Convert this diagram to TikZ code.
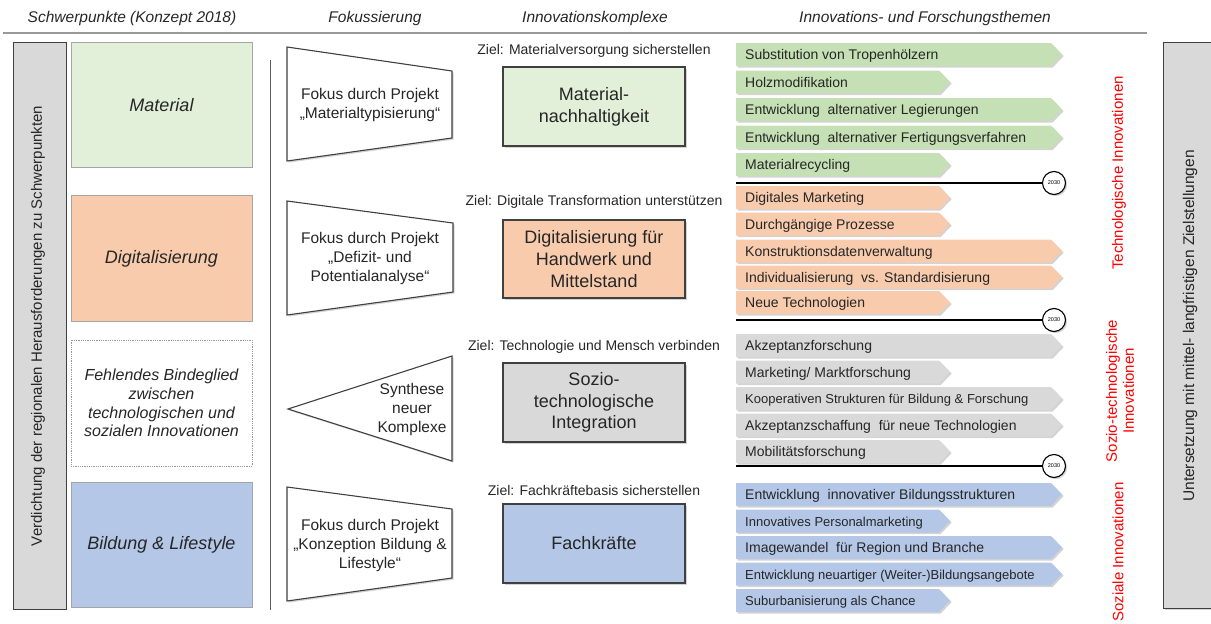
\documentclass[tikz,border=0pt]{standalone}
\usepackage{fontspec}
\setmainfont{Liberation Sans}
\usetikzlibrary{shadows}
\definecolor{gA}{HTML}{E2F0D9}
\definecolor{gB}{HTML}{C5E0B4}
\definecolor{oA}{HTML}{F8CBAD}
\definecolor{grA}{HTML}{D9D9D9}
\definecolor{bA}{HTML}{B4C7E7}
\definecolor{txt}{HTML}{262626}
\definecolor{edge}{HTML}{404040}
\definecolor{redtxt}{HTML}{FF0000}
\newcommand{\fsz}[2]{\fontsize{#1}{#2}\selectfont}
% #1 name, #2 top y, #3 tip x, #4 fill, #5 font size, #6 text
\newcommand{\mytopic}[6]{%
  \path[fill=#4, shd] (736,#2) -- ({#3-11},#2) -- (#3,{#2+11.5}) -- ({#3-11},{#2+23}) -- (736,{#2+23}) -- cycle;
  \node[anchor=base west, inner sep=0pt, text=txt, font=\fsz{#5}{#5}] (#1) at (745,{#2+16.5}) {#6};}
\begin{document}
\begin{tikzpicture}[x=1pt,y=-1pt,
  shd/.style={drop shadow={shadow xshift=1.6pt,shadow yshift=-1.6pt,opacity=0.35}},
  hdr/.style={font=\fsz{15.5}{18}\itshape, text=txt, inner sep=0pt},
  sbox/.style={draw=black!35, line width=0.8pt, minimum width=181pt, inner sep=0pt, align=center, text=txt, font=\fsz{18}{21}\itshape},
  cbox/.style={draw=edge, line width=1.2pt, minimum width=182pt, minimum height=79pt, inner sep=0pt, align=center, text=txt, font=\fsz{18}{21.7}, shd},
  ziel/.style={font=\fsz{14}{16}, text=txt, inner sep=0pt},
  trap/.style={draw=edge, fill=white, line width=1.1pt, shd},
  traptext/.style={align=center, font=\fsz{15.5}{19}, text=txt, inner sep=0pt},
  redlab/.style={rotate=90, align=center, font=\fsz{15}{17}, text=redtxt, inner sep=0pt},
  yearc/.style={circle, draw=black, fill=white, line width=1.1pt, minimum size=23pt, inner sep=0pt, font=\fsz{5.5}{6}, shd},
  yline/.style={line width=1.8pt, black}
]
\useasboundingbox (0,0) rectangle (1211,624);

% header
\node[hdr] (h1) at (132,18) {Schwerpunkte (Konzept 2018)};
\node[hdr] (h2) at (375,18) {Fokussierung};
\node[hdr] (h3) at (595,18) {Innovationskomplexe};
\node[hdr] (h4) at (925,18) {Innovations- und Forschungsthemen};
\coordinate (hl1) at (3,33);
\coordinate (hl2) at (1147,33);
\draw[black!40, line width=1.6pt] (hl1) -- (hl2);

% left bar
\node[draw=edge, fill=grA, line width=1pt, minimum width=53pt, minimum height=567pt, inner sep=0pt] (lb) at (39.5,325.5) {};
\node[rotate=90, font=\fsz{15}{17}, text=txt, inner sep=0pt] (lbt) at (38,326) {Verdichtung der regionalen Herausforderungen zu Schwerpunkten};

% left boxes
\node[sbox, fill=gA, minimum height=125pt] (s1) at (161.5,105) {Material};
\node[sbox, fill=oA, minimum height=126pt] (s2) at (161.5,258.5) {Digitalisierung};
\node[sbox, draw=black!40, densely dotted, fill=white, minimum height=126pt, font=\fsz{16}{18.7}\itshape] (s3) at (161.5,403) {Fehlendes Bindeglied\\zwischen\\technologischen und\\sozialen Innovationen};
\node[sbox, fill=bA, minimum height=125pt] (s4) at (161.5,544.5) {Bildung \& Lifestyle};

% separator
\coordinate (v1) at (270,60);
\coordinate (v2) at (270,610);
\draw[black!65, line width=1pt] (v1) -- (v2);

% trapezoids
\draw[trap] (287,47) -- (452,71) -- (452,138) -- (287,161) -- cycle;
\node[traptext] (f1) at (370,105) {Fokus durch Projekt\\„Materialtypisierung“};
\draw[trap] (287,201) -- (453,223) -- (453,292) -- (287,315) -- cycle;
\node[traptext] (f2) at (370,258) {Fokus durch Projekt\\„Defizit- und\\Potentialanalyse“};
\draw[trap] (288,409) -- (452,356) -- (452,461) -- cycle;
\node[traptext] (f3) at (412,409) {Synthese\\neuer\\Komplexe};
\draw[trap] (287,487) -- (452,509) -- (452,578) -- (287,601) -- cycle;
\node[traptext] (f4) at (370,545) {Fokus durch Projekt\\„Konzeption Bildung \&\\Lifestyle“};

% center boxes
\node[ziel] (z1) at (594,51) {Ziel: Materialversorgung sicherstellen};
\node[cbox, fill=gA] (k1) at (594,106.5) {Material-\\nachhaltigkeit};
\node[ziel] (z2) at (594,202) {Ziel: Digitale Transformation unterstützen};
\node[cbox, fill=oA, minimum height=78pt] (k2) at (594,259) {Digitalisierung für\\Handwerk und\\Mittelstand};
\node[ziel] (z3) at (594,347) {Ziel: Technologie und Mensch verbinden};
\node[cbox, fill=grA] (k3) at (594,402.5) {Sozio-\\technologische\\Integration};
\node[ziel] (z4) at (594,490) {Ziel: Fachkräftebasis sicherstellen};
\node[cbox, fill=bA] (k4) at (594,543.5) {Fachkräfte};

% topics green
\mytopic{t1}{43}{1062}{gB}{14}{Substitution von Tropenhölzern}
\mytopic{t2}{70.5}{950}{gB}{14}{Holzmodifikation}
\mytopic{t3}{98}{1062}{gB}{14}{Entwicklung\ \ alternativer Legierungen}
\mytopic{t4}{125.5}{1062}{gB}{14}{Entwicklung\ \ alternativer Fertigungsverfahren}
\mytopic{t5}{153}{950}{gB}{14}{Materialrecycling}
% orange
\mytopic{t6}{186}{950}{oA}{14}{Digitales Marketing}
\mytopic{t7}{212.5}{950}{oA}{14}{Durchgängige Prozesse}
\mytopic{t8}{239.5}{1062}{oA}{14}{Konstruktionsdatenverwaltung}
\mytopic{t9}{265.5}{1062}{oA}{14}{Individualisierung\ \ vs. Standardisierung}
\mytopic{t10}{291}{950}{oA}{14}{Neue Technologien}
% gray
\mytopic{t11}{334}{1062}{grA}{14}{Akzeptanzforschung}
\mytopic{t12}{360.5}{950}{grA}{14}{Marketing/ Marktforschung}
\mytopic{t13}{387}{1062}{grA}{13}{Kooperativen Strukturen für Bildung \& Forschung}
\mytopic{t14}{413.5}{1062}{grA}{14}{Akzeptanzschaffung\ \ für neue Technologien}
\mytopic{t15}{440}{950}{grA}{14}{Mobilitätsforschung}
% blue
\mytopic{t16}{483}{1062}{bA}{14}{Entwicklung\ \ innovativer Bildungsstrukturen}
\mytopic{t17}{509.5}{950}{bA}{13}{Innovatives Personalmarketing}
\mytopic{t18}{536}{1062}{bA}{14}{Imagewandel\ \ für Region und Branche}
\mytopic{t19}{562.5}{1062}{bA}{13}{Entwicklung neuartiger (Weiter-)Bildungsangebote}
\mytopic{t20}{589}{950}{bA}{13}{Suburbanisierung als Chance}

% 2030 lines
\coordinate (ls1) at (736,183);
\coordinate (ls2) at (736,320);
\coordinate (ls3) at (736,466);
\node[yearc] (y1) at (1054,183) {2030};
\node[yearc] (y2) at (1054,320) {2030};
\node[yearc] (y3) at (1054,466) {2030};
\draw[yline] (ls1) -- (y1.west);
\draw[yline] (ls2) -- (y2.west);
\draw[yline] (ls3) -- (y3.west);

% red labels
\node[redlab] (r1) at (1119,173) {Technologische Innovationen};
\node[redlab] (r2) at (1120,391) {Sozio-technologische\\Innovationen};
\node[redlab] (r3) at (1118,552) {Soziale Innovationen};

% right box
\node[draw=edge, fill=grA, line width=1pt, minimum width=54pt, minimum height=566pt, inner sep=0pt, shd] (rb) at (1190,325) {};
\node[rotate=90, font=\fsz{15.5}{17}, text=txt, inner sep=0pt] (rbt) at (1190,326) {Untersetzung mit mittel- langfristigen Zielstellungen};
\end{tikzpicture}
\end{document}
